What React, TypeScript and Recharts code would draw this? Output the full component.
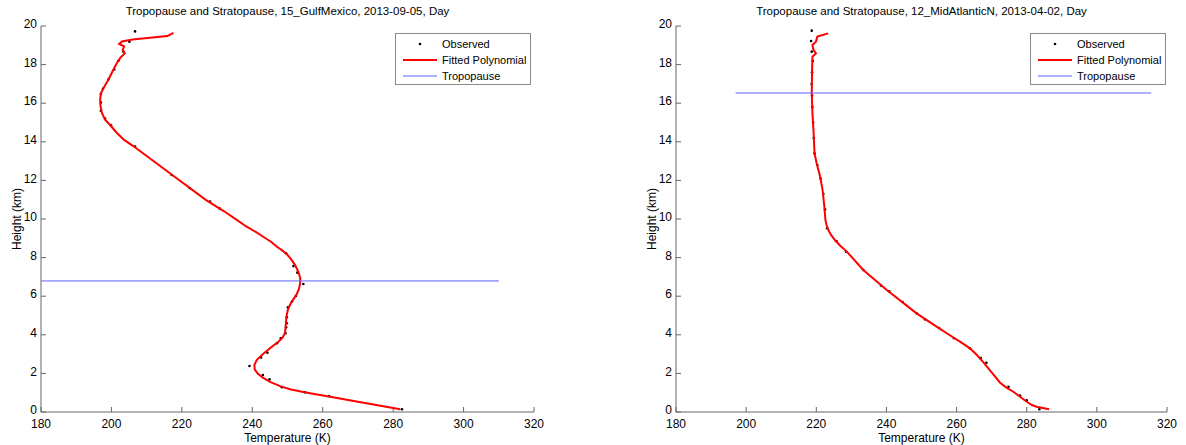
import { ScatterChart, Scatter, XAxis, YAxis, Legend, Label } from "recharts"

const FONT = '"Liberation Sans", Arial, Helvetica, sans-serif'

const tempTicks = [180, 200, 220, 240, 260, 280, 300, 320]
const heightTicks = [0, 2, 4, 6, 8, 10, 12, 14, 16, 18, 20]
const legendNames = ["Observed", "Fitted Polynomial", "Tropopause"]

// 15_GulfMexico, 2013-09-05 : [temperature K, height km]
const gulfObserved = [
  [206.7, 19.72], [205.1, 19.19], [203.4, 18.66], [202, 18.2], [200.8, 17.75], [199.2, 17.25],
  [197.6, 16.75], [197, 16.48], [197, 16.03], [197, 15.61], [198.2, 15.2], [199.9, 14.85],
  [206.7, 13.75], [217.1, 12.28], [222.3, 11.59], [228, 10.9], [230.7, 10.55], [249.6, 8.22],
  [251.7, 7.56], [252.8, 7.22], [254.5, 6.63], [252.4, 6.01], [251.3, 5.72], [250.1, 5.42],
  [249.8, 4.91], [249.8, 4.6], [249.6, 4.39], [249.4, 4.08], [248.1, 3.82], [247, 3.56],
  [244.3, 3.07], [242.5, 2.83], [239.2, 2.38], [243, 1.92], [244.9, 1.69], [248.4, 1.28],
  [255, 1.02], [261.8, 0.83], [282.5, 0.14],
]
const gulfFitted = [
  [217.6, 19.65], [215.9, 19.48], [206, 19.3], [203, 19.2], [202.2, 19.07], [203.6, 18.95],
  [203.2, 18.75], [203.8, 18.58], [202.5, 18.35], [201.6, 18.1], [200.5, 17.72], [199.1, 17.2],
  [197.8, 16.8], [197, 16.5], [196.8, 16.2], [196.9, 15.85], [197.3, 15.5], [198.2, 15.15],
  [199.6, 14.87], [201.5, 14.47], [203.6, 14.1], [206.2, 13.78], [216.6, 12.37], [226.9, 10.98],
  [232, 10.4], [236, 9.9], [238.4, 9.6], [241, 9.33], [243.1, 9.08], [245.3, 8.82], [247, 8.56],
  [248.6, 8.36], [249.8, 8.18], [251, 7.92], [252.2, 7.6], [253.1, 7.25], [253.6, 6.95],
  [253.6, 6.7], [253.3, 6.4], [252.6, 6.1], [251.7, 5.85], [250.8, 5.58], [250.1, 5.3],
  [249.7, 4.95], [249.5, 4.5], [249.3, 4.1], [248.6, 3.85], [247.5, 3.65], [245.1, 3.32],
  [242.9, 2.98], [241.3, 2.7], [240.6, 2.45], [240.7, 2.2], [241.6, 1.98], [243, 1.78],
  [245.2, 1.55], [247.9, 1.34], [251, 1.17], [254.5, 1.04], [258, 0.92], [262.1, 0.79],
  [271.6, 0.48], [282, 0.14],
]
const gulfTropopause = [[180, 6.79], [310, 6.79]]

// 12_MidAtlanticN, 2013-04-02
const atlanticObserved = [
  [218.7, 19.76], [218.5, 19.22], [218.7, 18.67], [219, 18.19], [218.8, 17.6], [218.7, 17.0],
  [218.8, 16.4], [218.9, 15.8], [219.1, 15.0], [219.3, 14.2], [219.5, 13.4], [220.3, 12.8],
  [221.2, 12.1], [222, 11.3], [222.5, 10.5], [223.1, 9.52], [225.8, 8.85], [228.5, 8.3],
  [233.4, 7.36], [238.5, 6.55], [240.8, 6.25], [244.6, 5.7], [248.7, 5.1], [251, 4.8],
  [255, 4.35], [259.3, 3.82], [263.8, 3.3], [266.9, 2.8], [268.5, 2.55], [274.8, 1.3],
  [278.1, 0.85], [280, 0.6], [283.6, 0.14],
]
const atlanticFitted = [
  [223.4, 19.62], [220.3, 19.45], [219.9, 19.19], [218.9, 19.02], [219.2, 18.76], [219.9, 18.58],
  [218.9, 18.41], [218.8, 17.72], [218.7, 16.51], [218.9, 15.48], [219.2, 14.61], [219.5, 13.4],
  [220.1, 12.89], [221.1, 12.19], [221.8, 11.5], [222.3, 10.64], [222.6, 9.95], [222.9, 9.7],
  [223.5, 9.4], [224.3, 9.15], [225.3, 8.91], [226.9, 8.6], [228.7, 8.31], [233.4, 7.36],
  [240.1, 6.32], [248.6, 5.11], [254.3, 4.42], [258.3, 3.95], [261.2, 3.62], [263.8, 3.3],
  [265.8, 2.95], [267.6, 2.58], [270, 2.05], [272.4, 1.52], [274.3, 1.25], [276.2, 1.05],
  [280, 0.53], [281.5, 0.36], [282.8, 0.27], [286.4, 0.14],
]
const atlanticTropopause = [[197, 16.53], [315.5, 16.53]]

const toPoints = (rows: number[][]) => rows.map(([t, h]) => ({ t, h }))

const Dot = (props: any) => <circle cx={props.cx} cy={props.cy} r={1.3} fill="#000" />
const NoDot = () => <g />

const LegendBox = () => (
  <div
    style={{
      border: "1px solid #8a8a8a",
      background: "#fff",
      height: 52,
      fontFamily: FONT,
      fontSize: 11,
      color: "#000",
      boxSizing: "border-box",
      paddingTop: 2,
      whiteSpace: "nowrap",
    }}
  >
    {legendNames.map((name, i) => (
      <div key={name} style={{ display: "flex", alignItems: "center", height: 16 }}>
        <svg width={40} height={10} style={{ marginLeft: 4, flexShrink: 0 }}>
          {i === 0 && <circle cx={20} cy={5} r={1.3} fill="#000" />}
          {i === 1 && <line x1={3} x2={37} y1={5} y2={5} stroke="#ff0000" strokeWidth={2} />}
          {i === 2 && <line x1={3} x2={37} y1={5} y2={5} stroke="#6060ff" strokeWidth={1} />}
        </svg>
        <span style={{ marginLeft: 2 }}>{name}</span>
      </div>
    ))}
  </div>
)

interface PanelProps {
  title: string
  observed: number[][]
  fitted: number[][]
  tropopause: number[][]
  marginLeft: number
  marginRight: number
  legendLeft: number
}

function Panel({ title, observed, fitted, tropopause, marginLeft, marginRight, legendLeft }: PanelProps) {
  const width = 593
  const plotLeft = marginLeft + 30
  const plotRight = width - marginRight
  return (
    <div style={{ position: "relative", width, height: 445 }}>
      <div
        style={{
          position: "absolute",
          top: 5,
          left: plotLeft,
          width: plotRight - plotLeft,
          textAlign: "center",
          fontFamily: FONT,
          fontSize: 11.5,
          color: "#000",
          whiteSpace: "nowrap",
        }}
      >
        {title}
      </div>
      <ScatterChart width={width} height={445} margin={{ top: 26, right: marginRight, bottom: 3, left: marginLeft }}>
        <XAxis
          type="number"
          dataKey="t"
          domain={[180, 320]}
          ticks={tempTicks}
          allowDataOverflow
          height={30}
          stroke="#666"
          tickSize={-5}
          tickMargin={12}
          tick={{ fill: "#000", fontSize: 12, fontFamily: FONT }}
        >
          <Label
            content={(p: any) => (
              <text
                x={p.viewBox.x + p.viewBox.width / 2}
                y={p.viewBox.y + 30}
                textAnchor="middle"
                fontSize={12}
                fontFamily={FONT}
                fill="#000"
              >
                Temperature (K)
              </text>
            )}
          />
        </XAxis>
        <YAxis
          type="number"
          dataKey="h"
          domain={[0, 20]}
          ticks={heightTicks}
          allowDataOverflow
          width={30}
          stroke="#666"
          tickSize={-5}
          tickMargin={9}
          tick={{ fill: "#000", fontSize: 12, fontFamily: FONT, dy: -2 }}
        >
          <Label
            content={(p: any) => {
              const x = p.viewBox.x + p.viewBox.width - 20
              const y = p.viewBox.y + p.viewBox.height / 2
              return (
                <text
                  x={x}
                  y={y}
                  transform={`rotate(-90, ${x}, ${y})`}
                  textAnchor="middle"
                  fontSize={12}
                  fontFamily={FONT}
                  fill="#000"
                >
                  Height (km)
                </text>
              )
            }}
          />
        </YAxis>
        <Scatter name="Observed" data={toPoints(observed)} shape={Dot} isAnimationActive={false} />
        <Scatter
          name="Fitted Polynomial"
          data={toPoints(fitted)}
          shape={NoDot}
          line={{ stroke: "#ff0000", strokeWidth: 2 }}
          lineType="joint"
          isAnimationActive={false}
        />
        <Scatter
          name="Tropopause"
          data={toPoints(tropopause)}
          shape={NoDot}
          line={{ stroke: "#6060ff", strokeWidth: 1 }}
          lineType="joint"
          isAnimationActive={false}
        />
        <Legend
          layout="vertical"
          align="center"
          verticalAlign="middle"
          wrapperStyle={{ left: legendLeft, top: 33, width: 136 }}
          content={() => <LegendBox />}
        />
      </ScatterChart>
    </div>
  )
}

export default function App() {
  return (
    <div style={{ position: "absolute", left: 0, top: 0, width: 1186, height: 445, background: "#fff", display: "flex" }}>
      <Panel
        title="Tropopause and Stratopause, 15_GulfMexico, 2013-09-05, Day"
        observed={gulfObserved}
        fitted={gulfFitted}
        tropopause={gulfTropopause}
        marginLeft={11}
        marginRight={59}
        legendLeft={395}
      />
      <Panel
        title="Tropopause and Stratopause, 12_MidAtlanticN, 2013-04-02, Day"
        observed={atlanticObserved}
        fitted={atlanticFitted}
        tropopause={atlanticTropopause}
        marginLeft={53}
        marginRight={19}
        legendLeft={437}
      />
    </div>
  )
}
